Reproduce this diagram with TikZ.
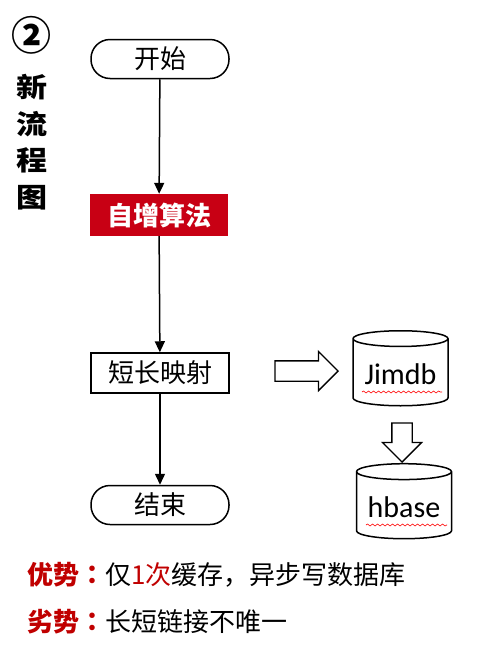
\documentclass[tikz,border=0pt]{standalone}
\usepackage{fontspec}
\setmainfont{Noto Sans CJK SC}
\newfontfamily\latinfont{Carlito}
\newfontfamily\tcfont{Noto Sans CJK TC}
\usepackage{xcolor}
\usepackage{tikz}
\usetikzlibrary{arrows.meta,shapes.geometric,shapes.arrows,decorations.pathmorphing}
\definecolor{boxred}{RGB}{200,0,20}
\definecolor{txtred}{RGB}{192,0,0}
\newcommand{\flowfont}{\fontsize{26}{30}\selectfont}
\newcommand{\fullcolon}{{\tcfont ：}}
\tikzstyle{arrow} = [line width=1.5pt,-{Triangle[length=11pt,width=10pt]}]
\tikzstyle{startstop} = [draw, line width=1.5pt, rounded corners=19pt, minimum width=138pt, minimum height=39pt, font=\flowfont]
\tikzstyle{process} = [draw, line width=1.5pt, minimum width=138pt, minimum height=40pt, font=\flowfont]
\tikzstyle{database} = [draw, line width=1.5pt, cylinder, shape border rotate=90, aspect=0.2, minimum width=95pt, minimum height=75pt, font=\latinfont\fontsize{30}{34}\selectfont]
\tikzstyle{bigarrow} = [draw, line width=1.3pt, single arrow, single arrow head extend=9.5pt, inner sep=9.5pt]
\tikzstyle{squiggle} = [red, line width=0.6pt, decorate, decoration={snake, segment length=5pt, amplitude=1pt}]

\begin{document}
\begin{tikzpicture}[x=1pt,y=-1pt]
            \useasboundingbox (0,0) rectangle (480,670);
            % title
            \node[font=\fontsize{40}{40}\selectfont\bfseries] (num) at (32,35) {②};
            \node[font=\fontsize{27}{36.5}\selectfont\bfseries, align=center, xscale=1.15] (title) at (32,142) {新\\流\\程\\图};
            % flow
            \node[startstop] (start) at (160,59) {开始};
            \node[fill=boxred, text=white, font=\flowfont\bfseries, minimum width=138pt, minimum height=42pt] (incr) at (159,215) {自增算法};
            \node[process] (map) at (160,373) {短长映射};
            \node[startstop] (stop) at (160,505) {结束};
            \draw[arrow] (start) -- (incr);
            \draw[arrow] (incr) -- (map);
            \draw[arrow] (map) -- (stop);
            % storage
            \node[database] (jimdb) at (400.5,374) {Jimdb};
            \node[database] (hbase) at (404,507) {hbase};
            \node[bigarrow, minimum height=63pt] (toj) at (301.5,371) {};
            \node[bigarrow, shape border rotate=270, minimum height=39pt] (toh) at (402,437.5) {};
            \draw[squiggle] (362,392) -- (442,392);
            \draw[squiggle] (366,525) -- (447,525);
            % notes
            \node[anchor=base west, inner sep=0pt, font=\flowfont] (pro) at (27,584) {\textcolor{txtred}{\bfseries 优势\fullcolon}仅\textcolor{txtred}{1次}缓存，异步写数据库};
            \node[anchor=base west, inner sep=0pt, font=\flowfont] (con) at (27,631) {\textcolor{txtred}{\bfseries 劣势\fullcolon}长短链接不唯一};
\end{tikzpicture}
\end{document}
